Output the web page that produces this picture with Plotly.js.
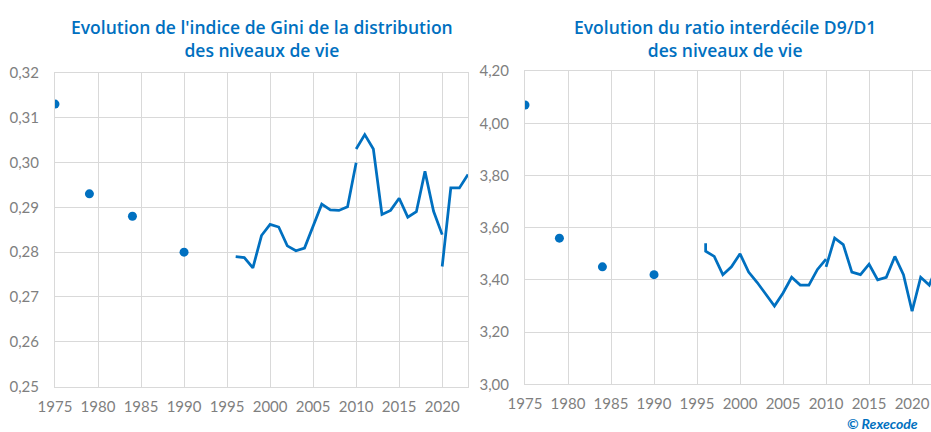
<!DOCTYPE html>
<html>
<head>
<meta charset="utf-8">
<script src="https://cdn.plot.ly/plotly-3.0.1.min.js"></script>
<style>html,body{margin:0;padding:0;background:#fff;}#chart{width:931px;height:432px;}</style>
</head>
<body>
<div id="chart"></div>
<script>
// ---- Data: Gini index ----
const giniPointYears = [1975, 1979, 1984, 1990];
const giniPointVals  = [0.313, 0.293, 0.288, 0.280];
const giniOldYears = [1996, 1997, 1998, 1999, 2000, 2001, 2002, 2003, 2004, 2005, 2006, 2007, 2008, 2009, 2010];
const giniOldVals  = [0.2790, 0.2788, 0.2765, 0.2837, 0.2862, 0.2856, 0.2814, 0.2803, 0.2809, 0.2857, 0.2907, 0.2894, 0.2893, 0.2901, 0.2999];
const giniMidYears = [2010, 2011, 2012, 2013, 2014, 2015, 2016, 2017, 2018, 2019, 2020];
const giniMidVals  = [0.3030, 0.3062, 0.3030, 0.2884, 0.2893, 0.2920, 0.2878, 0.2890, 0.2980, 0.2891, 0.2839];
const giniNewYears = [2020, 2021, 2022, 2023];
const giniNewVals  = [0.2768, 0.2943, 0.2943, 0.2973];

// ---- Data: D9/D1 ratio ----
const d9PointYears = [1975, 1979, 1984, 1990];
const d9PointVals  = [4.07, 3.56, 3.45, 3.42];
const d9OldYears = [1996, 1996, 1997, 1998, 1999, 2000, 2001, 2002, 2003, 2004, 2005, 2006, 2007, 2008, 2009, 2010];
const d9OldVals  = [3.54, 3.51, 3.49, 3.42, 3.45, 3.50, 3.43, 3.39, 3.345, 3.30, 3.35, 3.41, 3.38, 3.38, 3.44, 3.48];
const d9MidYears = [2010, 2011, 2012, 2013, 2014, 2015, 2016, 2017, 2018, 2019, 2020];
const d9MidVals  = [3.45, 3.56, 3.535, 3.43, 3.42, 3.46, 3.40, 3.41, 3.49, 3.42, 3.28];
const d9NewYears = [2020, 2021, 2022, 2023];
const d9NewVals  = [3.28, 3.41, 3.38, 3.46];

// ---- Text ----
const titleLeft  = "Evolution de l'indice de Gini de la distribution<br>des niveaux de vie";
const titleRight = "Evolution du ratio interdécile D9/D1<br>des niveaux de vie";
const credit = "© Rexecode";

const BLUE = '#0070C0';
const GRID = '#d9d9d9';
const TICK = '#7f7f7f';
const W = 931, H = 432;

function pts(x, y, xa, ya) {
  return {x, y, xaxis: xa, yaxis: ya, type: 'scatter', mode: 'markers',
          marker: {color: BLUE, size: 9}, hoverinfo: 'skip'};
}
function line(x, y, xa, ya) {
  return {x, y, xaxis: xa, yaxis: ya, type: 'scatter', mode: 'lines',
          line: {color: BLUE, width: 2.75}, hoverinfo: 'skip'};
}

const data = [
  pts(giniPointYears, giniPointVals, 'x', 'y'),
  line(giniOldYears, giniOldVals, 'x', 'y'),
  line(giniMidYears, giniMidVals, 'x', 'y'),
  line(giniNewYears, giniNewVals, 'x', 'y'),
  pts(d9PointYears, d9PointVals, 'x2', 'y2'),
  line(d9OldYears, d9OldVals, 'x2', 'y2'),
  line(d9MidYears, d9MidVals, 'x2', 'y2'),
  line(d9NewYears, d9NewVals, 'x2', 'y2')
];

const tickFont = {family: 'Lato, sans-serif', size: 15, color: TICK};
function xax(domain, range, mirror) {
  return {domain, range, dtick: 5, tick0: 1975, showgrid: true, gridcolor: GRID, gridwidth: 1,
          showline: true, linecolor: GRID, linewidth: 1, mirror: mirror, zeroline: false,
          ticks: '', tickfont: tickFont, ticklabelstandoff: 6, fixedrange: true};
}
function yax(domain, range, dtick, fmt, mirror, anchor) {
  return {domain, range, dtick, tickformat: fmt, showgrid: true, gridcolor: GRID, gridwidth: 1,
          showline: true, linecolor: GRID, linewidth: 1, mirror: mirror, zeroline: false,
          ticks: '', tickfont: tickFont, ticklabelstandoff: 12, anchor, fixedrange: true};
}

const titleFont = {family: '"Open Sans", sans-serif', size: 17.5, color: BLUE, weight: 600};

const layout = {
  width: W, height: H,
  margin: {l: 0, r: 0, t: 0, b: 0},
  paper_bgcolor: '#fff', plot_bgcolor: '#fff',
  showlegend: false,
  separators: ', ',
  xaxis:  Object.assign(xax([55/W, 468/W], [1975, 2023], true), {anchor: 'y'}),
  yaxis:  yax([(H-386.7)/H, (H-72.7)/H], [0.25, 0.32], 0.01, '.2f', true, 'x'),
  xaxis2: Object.assign(xax([525/W, 1], [1975, 2022.2], true), {anchor: 'y2'}),
  yaxis2: yax([(H-384.3)/H, (H-71.1)/H], [3.0, 4.2], 0.2, '.2f', false, 'x2'),
  annotations: [
    {text: titleLeft, xref: 'paper', yref: 'paper', x: 262/W, y: 1 - 14/H, xanchor: 'center', yanchor: 'top',
     showarrow: false, align: 'center', font: titleFont, borderpad: 0},
    {text: titleRight, xref: 'paper', yref: 'paper', x: 725/W, y: 1 - 14/H, xanchor: 'center', yanchor: 'top',
     showarrow: false, align: 'center', font: titleFont, borderpad: 0},
    {text: '<b><i>' + credit + '</i></b>', xref: 'paper', yref: 'paper', x: 919/W, y: 1 - 423/H, xanchor: 'right', yanchor: 'middle',
     showarrow: false, borderpad: 0, font: {family: 'Lato, sans-serif', size: 14, color: BLUE}}
  ]
};

Plotly.newPlot('chart', data, layout, {displayModeBar: false, staticPlot: true});
</script>
</body>
</html>
